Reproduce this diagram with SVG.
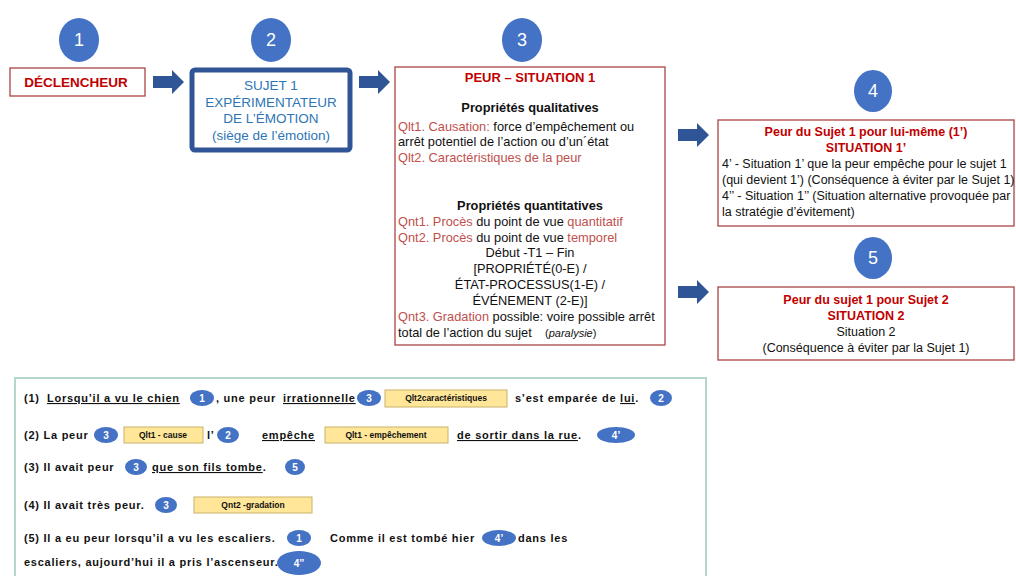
<svg xmlns="http://www.w3.org/2000/svg" width="1016" height="576" viewBox="0 0 1016 576">
<defs>
<style>
text{font-family:"Liberation Sans",Arial,sans-serif;}
.num{font-size:18px;fill:#fff;text-anchor:middle;}
.circ{fill:#4472C4;}
.badge{fill:#4472C4;}
.bn{font-size:10px;fill:#fff;font-weight:bold;text-anchor:middle;}
.rbox{fill:#fff;stroke:#A94444;stroke-width:1.3;}
.t13{font-size:12.8px;fill:#111;}
.t125{font-size:12.5px;fill:#111;}
.red{fill:#C00000;font-weight:bold;}
.lr{fill:#C0504D;}
.mid{text-anchor:middle;}
.b{font-weight:bold;}
.s{font-size:11px;font-weight:bold;fill:#111;letter-spacing:0.75px;}
.u{text-decoration:underline;}
.yb{fill:#FFE699;stroke:#C9B26A;stroke-width:1;}
.yt{font-size:8.5px;font-weight:bold;fill:#111;text-anchor:middle;}
.blue{fill:#2E75B6;font-size:13.5px;text-anchor:middle;}
</style>
<path id="arr" d="M0,-6 H19 V-12 L31,0 L19,12 V6 H0 Z" fill="#2F5597"/>
</defs>
<rect width="1016" height="576" fill="#fff"/>

<g id="connectors">
<use href="#arr" x="153" y="82"/>
<use href="#arr" x="359" y="82"/>
<use href="#arr" x="678" y="135"/>
<use href="#arr" x="678" y="292"/>
</g>

<g id="num-1"><ellipse class="circ" cx="79" cy="40" rx="20" ry="22"/><text class="num" x="79" y="46">1</text></g>
<g id="num-2"><ellipse class="circ" cx="271" cy="40" rx="20" ry="22"/><text class="num" x="271" y="46">2</text></g>
<g id="num-3"><ellipse class="circ" cx="522" cy="40" rx="20" ry="22"/><text class="num" x="522" y="46">3</text></g>
<g id="num-4"><ellipse class="circ" cx="873" cy="91" rx="19" ry="21"/><text class="num" x="873" y="97">4</text></g>
<g id="num-5"><ellipse class="circ" cx="873" cy="258" rx="19" ry="21"/><text class="num" x="873" y="264">5</text></g>

<g id="declencheur">
<rect class="rbox" x="10" y="68" width="135" height="28"/>
<text x="76" y="87" class="red mid" font-size="13.5">DÉCLENCHEUR</text>
</g>

<g id="sujet1">
<rect x="192" y="70" width="158" height="80" rx="3" fill="#fff" stroke="#2F5597" stroke-width="5"/>
<text class="blue" x="271" y="90">SUJET 1</text>
<text class="blue" x="271" y="107">EXPÉRIMENTATEUR</text>
<text class="blue" x="271" y="123">DE L’ÉMOTION</text>
<text class="blue" x="271" y="140">(siège de l’émotion)</text>
</g>

<g id="peur-situation1">
<rect class="rbox" x="395" y="67" width="270" height="278"/>
<text class="red mid" x="530" y="82" font-size="13">PEUR – SITUATION 1</text>
<text class="t13 b mid" x="530" y="112">Propriétés qualitatives</text>
<text class="t13" x="398" y="131"><tspan class="lr">Qlt1. Causation:</tspan> force d’empêchement ou</text>
<text class="t13" x="398" y="146">arrêt potentiel de l’action ou d’un´état</text>
<text class="t13" x="398" y="162"><tspan class="lr">Qlt2. Caractéristiques de la peur</tspan></text>
<text class="t13 b mid" x="530" y="210">Propriétés quantitatives</text>
<text class="t13" x="398" y="226"><tspan class="lr">Qnt1. Procès</tspan> du point de vue <tspan class="lr">quantitatif</tspan></text>
<text class="t13" x="398" y="242"><tspan class="lr">Qnt2. Procès</tspan> du point de vue <tspan class="lr">temporel</tspan></text>
<text class="t13 mid" x="530" y="257">Début -T1 – Fin</text>
<text class="t13 mid" x="530" y="273">[PROPRIÉTÉ(0-E) /</text>
<text class="t13 mid" x="530" y="289">ÉTAT-PROCESSUS(1-E) /</text>
<text class="t13 mid" x="530" y="305">ÉVÉNEMENT  (2-E)]</text>
<text class="t13" x="398" y="321"><tspan class="lr">Qnt3. Gradation</tspan> possible: voire possible arrêt</text>
<text class="t13" x="398" y="337">total de l’action du sujet</text>
<text x="545" y="337" font-size="11" fill="#111">(<tspan font-style="italic">paralysie</tspan>)</text>
</g>

<g id="situation1prime">
<rect class="rbox" x="718" y="120" width="296" height="106"/>
<text class="red mid" x="866" y="136" font-size="12.5">Peur du Sujet 1 pour lui-même (1’)</text>
<text class="red mid" x="866" y="152" font-size="12.5">SITUATION 1’</text>
<text class="t125" x="722" y="168">4’ - Situation 1’ que la peur empêche pour le sujet 1</text>
<text class="t125" x="722" y="184">(qui devient 1’) (Conséquence à éviter par le Sujet 1)</text>
<text class="t125" x="722" y="200">4’’ - Situation 1’’ (Situation alternative provoquée par</text>
<text class="t125" x="722" y="216">la stratégie d’évitement)</text>
</g>

<g id="situation2">
<rect class="rbox" x="718" y="287" width="296" height="73"/>
<text class="red mid" x="866" y="304" font-size="12.5">Peur du sujet 1 pour Sujet 2</text>
<text class="red mid" x="866" y="320" font-size="12.5">SITUATION 2</text>
<text class="t125 mid" x="866" y="336">Situation 2</text>
<text class="t125 mid" x="866" y="352">(Conséquence à éviter par la Sujet 1)</text>
</g>

<g id="examples">
<rect x="15" y="378" width="691" height="210" fill="none" stroke="#B5D6CC" stroke-width="2"/>
<text class="s" x="24" y="402">(1)</text>
<text class="s u" x="47" y="402">Lorsqu’il a vu le chien</text>
<ellipse class="badge" cx="202" cy="398" rx="12" ry="8"/><text class="bn" x="202" y="402">1</text>
<text class="s" x="216" y="402">, une peur</text>
<text class="s u" x="283" y="402">irrationnelle</text>
<ellipse class="badge" cx="369" cy="398" rx="12" ry="8"/><text class="bn" x="369" y="402">3</text>
<rect class="yb" x="385" y="390" width="122" height="17"/><text class="yt" x="446" y="401">Qlt2caractéristiques</text>
<text class="s" x="515" y="402">s’est emparée de <tspan class="u">lui</tspan>.</text>
<ellipse class="badge" cx="661" cy="398" rx="11" ry="8"/><text class="bn" x="661" y="402">2</text>
<text class="s" x="24" y="439">(2) La peur</text>
<ellipse class="badge" cx="106" cy="435" rx="12" ry="8"/><text class="bn" x="106" y="439">3</text>
<rect class="yb" x="124" y="427" width="79" height="16"/><text class="yt" x="163" y="438">Qlt1 - cause</text>
<text class="s" x="207" y="439">l’</text>
<ellipse class="badge" cx="228" cy="435" rx="11" ry="8"/><text class="bn" x="228" y="439">2</text>
<text class="s u" x="262" y="439">empêche</text>
<rect class="yb" x="325" y="427" width="123" height="16"/><text class="yt" x="386" y="438">Qlt1 - empêchement</text>
<text class="s" x="457" y="439"><tspan class="u">de sortir dans la rue</tspan>.</text>
<ellipse class="badge" cx="616" cy="435" rx="19" ry="8"/><text class="bn" x="616" y="439">4’</text>
<text class="s" x="24" y="471">(3) Il avait peur</text>
<ellipse class="badge" cx="136" cy="467" rx="11" ry="8"/><text class="bn" x="136" y="471">3</text>
<text class="s" x="152" y="471"><tspan class="u">que son fils tombe</tspan>.</text>
<ellipse class="badge" cx="295" cy="467" rx="10" ry="8"/><text class="bn" x="295" y="471">5</text>
<text class="s" x="24" y="509">(4) Il avait très peur.</text>
<ellipse class="badge" cx="166" cy="505" rx="11" ry="8"/><text class="bn" x="166" y="509">3</text>
<rect class="yb" x="194" y="497" width="118" height="16"/><text class="yt" x="253" y="508">Qnt2 -gradation</text>
<text class="s" x="24" y="542">(5) Il a eu peur lorsqu’il a vu les escaliers.</text>
<ellipse class="badge" cx="299" cy="538" rx="12" ry="8"/><text class="bn" x="299" y="542">1</text>
<text class="s" x="330" y="542">Comme il est tombé hier</text>
<ellipse class="badge" cx="499" cy="538" rx="17" ry="8"/><text class="bn" x="499" y="542">4’</text>
<text class="s" x="518" y="542">dans les</text>
<text class="s" x="24" y="566">escaliers, aujourd’hui il a pris l’ascenseur.</text>
<ellipse class="badge" cx="299" cy="563" rx="22" ry="12"/><text class="bn" x="299" y="567">4’’</text>
</g>
</svg>
